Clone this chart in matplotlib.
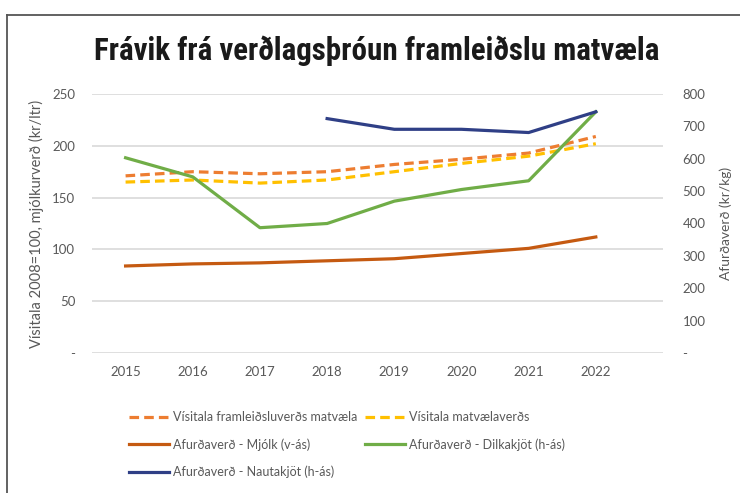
import matplotlib
matplotlib.use("Agg")
import matplotlib.pyplot as plt
from matplotlib.lines import Line2D
from matplotlib import font_manager

names = {f.name for f in font_manager.fontManager.ttflist}
title_font = next((n for n in ["Liberation Sans Narrow", "DejaVu Sans Condensed", "Roboto Condensed"] if n in names), "DejaVu Sans")
body_font = "Lato" if "Lato" in names else "DejaVu Sans"

years = [2015, 2016, 2017, 2018, 2019, 2020, 2021, 2022]
framleidsluverd = [171, 175, 173, 175, 182, 187, 193, 209]
matvaelaverd = [165, 167, 164, 167, 175, 183, 190, 202]
mjolk = [84, 86, 87, 89, 91, 96, 101, 112]
dilkakjot = [603, 544, 387, 400, 469, 505, 532, 745]
naut_years = [2018, 2019, 2020, 2021, 2022]
nautakjot = [724, 691, 691, 681, 745]

left_ticks = [0, 50, 100, 150, 200, 250]
left_labels = ["-", "50", "100", "150", "200", "250"]
right_ticks = [0, 100, 200, 300, 400, 500, 600, 700, 800]
right_labels = ["-", "100", "200", "300", "400", "500", "600", "700", "800"]

title = "Frávik frá verðlagsþróun framleiðslu matvæla"
left_ylabel = "Vísitala 2008=100, mjólkurverð (kr/ltr)"
right_ylabel = "Afurðaverð (kr/kg)"
labels = ["Vísitala framleiðsluverðs matvæla", "Vísitala matvælaverðs",
          "Afurðaverð - Mjólk (v-ás)", "Afurðaverð - Dilkakjöt (h-ás)",
          "Afurðaverð - Nautakjöt (h-ás)"]

c_orange = "#ED7D31"
c_yellow = "#FFC000"
c_brown = "#C55A11"
c_green = "#70AD47"
c_blue = "#2F3F86"
tick_col = "#595959"

plt.rcParams["font.family"] = [body_font, "DejaVu Sans"]

fig = plt.figure(figsize=(7.4, 4.93), dpi=100)
ax = fig.add_axes([92/740, 1-353/493, (663-92)/740, (353-94)/493])
ax2 = ax.twinx()

lw = 2.3
dash = (0, (3.0, 1.6))
l1, = ax.plot(years, framleidsluverd, color=c_orange, lw=lw, linestyle=dash)
l2, = ax.plot(years, matvaelaverd, color=c_yellow, lw=lw, linestyle=dash)
l3, = ax.plot(years, mjolk, color=c_brown, lw=lw)
l4, = ax2.plot(years, dilkakjot, color=c_green, lw=lw)
l5, = ax2.plot(naut_years, nautakjot, color=c_blue, lw=lw)

ax.set_xlim(2014.5, 2023.0)
ax.set_ylim(0, 250)
ax2.set_ylim(0, 800)
ax.set_xticks(years)
ax.set_xticklabels([str(y) for y in years])
ax.set_yticks(left_ticks)
ax.set_yticklabels(left_labels)
ax2.set_yticks(right_ticks)
ax2.set_yticklabels(right_labels)

ax.grid(axis="y", color="#D9D9D9", lw=1.2)
ax.set_axisbelow(True)
for a in (ax, ax2):
    for s in a.spines.values():
        s.set_visible(False)
    a.tick_params(length=0, colors=tick_col, labelsize=9.5)
ax.tick_params(axis="y", pad=12)
ax2.tick_params(axis="y", pad=14)
ax.tick_params(axis="x", pad=9)

ax.set_ylabel(left_ylabel, color=tick_col, fontsize=10.5, labelpad=6)
ax2.set_ylabel(right_ylabel, color=tick_col, fontsize=10, labelpad=10)

fig.text(377/740, 1-51/493, title, ha="center", va="center",
         fontsize=22.3, fontweight="bold", family=[title_font, "DejaVu Sans"], color="#1a1a1a")

# frame lines
fig.add_artist(Line2D([7/740, 1], [1-15/493, 1-15/493], color="#555555", lw=1.3, transform=fig.transFigure))
fig.add_artist(Line2D([7/740, 7/740], [0, 1-15/493], color="#555555", lw=1.3, transform=fig.transFigure))

leg = fig.legend([l1, l3, l5, l2, l4],
                 [labels[0], labels[2], labels[4], labels[1], labels[3]],
                 ncol=2, loc="upper left", bbox_to_anchor=(118/740, 1-400/493),
                 frameon=False, fontsize=9, handlelength=3.2, handletextpad=0.3,
                 columnspacing=0.6, labelspacing=1.2)
for t in leg.get_texts():
    t.set_color(tick_col)

fig.savefig("out.png", dpi=100, facecolor="white")
